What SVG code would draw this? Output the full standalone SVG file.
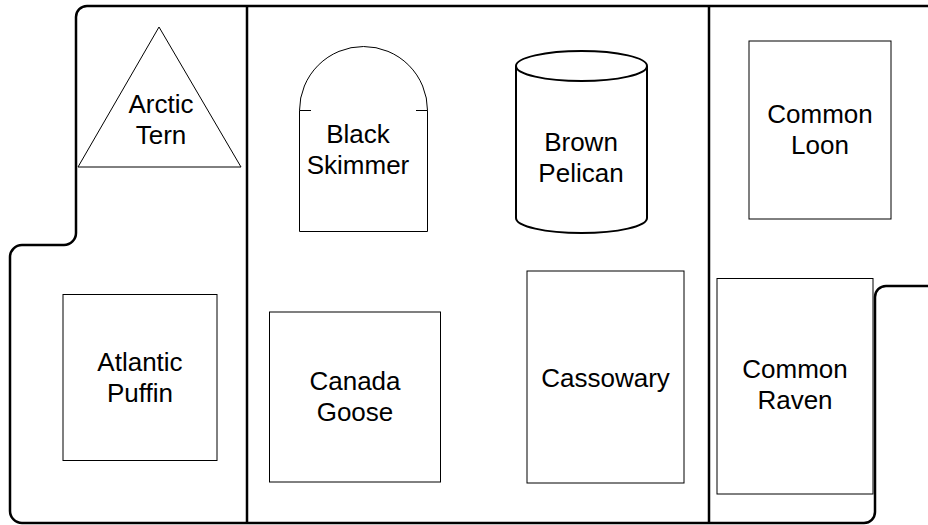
<svg xmlns="http://www.w3.org/2000/svg" width="928" height="525" viewBox="0 0 928 525">
<style>
.lane{fill:none;stroke:#000;stroke-width:2.5}
.node{fill:#fff;stroke:#000;stroke-width:1}
.cyl{fill:#fff;stroke:#000;stroke-width:2}
text{font-family:"Liberation Sans",Arial,sans-serif;font-size:26px;fill:#000;text-anchor:middle}
</style>
<rect width="928" height="525" fill="#fff"/>
<g id="lanes">
<path class="lane" d="M928,6 H87 A11,11 0 0 0 76,17 V233 A12,12 0 0 1 64,245 H22 A12,12 0 0 0 10,257 V511 A12,12 0 0 0 22,523 H864 A11,11 0 0 0 875,512 V297 A11,11 0 0 1 886,286 H928"/>
<line class="lane" x1="247" y1="6" x2="247" y2="523"/>
<line class="lane" x1="709" y1="6" x2="709" y2="523"/>
</g>
<g id="arctic-tern">
<polygon class="node" points="159,27 241,167 78,167"/>
<text x="161" y="113">Arctic</text>
<text x="161" y="144">Tern</text>
</g>
<g id="atlantic-puffin">
<rect class="node" x="63" y="294.5" width="154" height="166"/>
<text x="140" y="371">Atlantic</text>
<text x="140" y="402">Puffin</text>
</g>
<g id="black-skimmer">
<path class="node" d="M299.5,110.5 A64,64 0 0 1 427.5,110.5 V231.5 H299.5 Z"/>
<line class="node" x1="299.5" y1="110.5" x2="311" y2="110.5"/>
<line class="node" x1="416" y1="110.5" x2="427.5" y2="110.5"/>
<text x="358" y="143">Black</text>
<text x="358" y="174">Skimmer</text>
</g>
<g id="brown-pelican">
<path class="cyl" d="M516,66 V218 A65.5,15 0 0 0 647,218 V66"/>
<ellipse class="cyl" cx="581.5" cy="66" rx="65.5" ry="15"/>
<text x="581" y="151">Brown</text>
<text x="581" y="182">Pelican</text>
</g>
<g id="canada-goose">
<rect class="node" x="269.5" y="312" width="171" height="170"/>
<text x="355" y="390">Canada</text>
<text x="355" y="421">Goose</text>
</g>
<g id="cassowary">
<rect class="node" x="527" y="271" width="157" height="212"/>
<text x="605.5" y="387">Cassowary</text>
</g>
<g id="common-loon">
<rect class="node" x="749" y="41" width="142" height="178"/>
<text x="820" y="123">Common</text>
<text x="820" y="154">Loon</text>
</g>
<g id="common-raven">
<rect class="node" x="717" y="278.5" width="156" height="215.5"/>
<text x="795" y="378">Common</text>
<text x="795" y="409">Raven</text>
</g>
</svg>
